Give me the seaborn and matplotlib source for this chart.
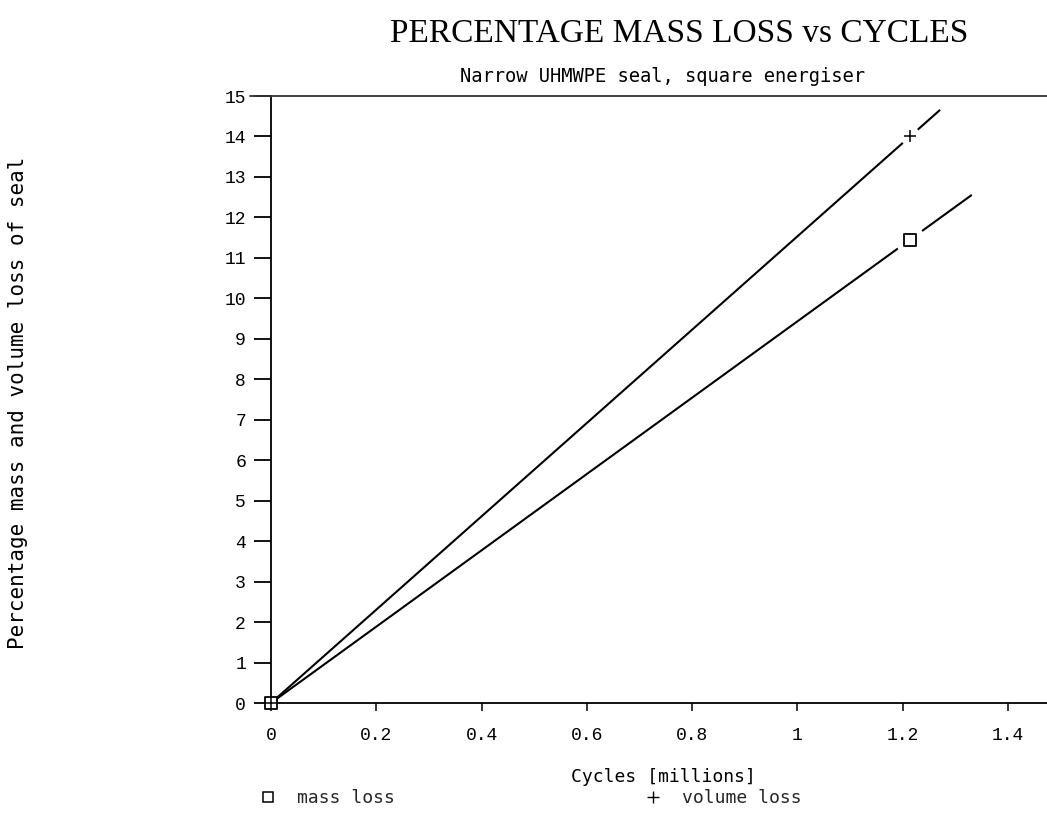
import numpy as np
import pandas as pd
import matplotlib
matplotlib.use("Agg")
import matplotlib.pyplot as plt
import seaborn as sns
from matplotlib.lines import Line2D

# Measured wear of the seal
cycles_millions = [0.0, 1.214]
mass_loss_pct = [0.0, 11.45]
volume_loss_pct = [0.0, 14.0]

# Extent of the fitted trend lines (millions of cycles)
mass_fit_end = 1.33
volume_fit_end = 1.27

x_ticks = [0, 0.2, 0.4, 0.6, 0.8, 1, 1.2, 1.4]
x_tick_labels = ["0", "0.2", "0.4", "0.6", "0.8", "1", "1.2", "1.4"]
y_ticks = list(range(0, 16))

sns.set_theme(style="white")
plt.rcParams["font.family"] = ["DejaVu Sans Mono"]

df = pd.DataFrame({
    "cycles": cycles_millions * 2,
    "loss": mass_loss_pct + volume_loss_pct,
    "series": ["mass loss"] * len(cycles_millions) + ["volume loss"] * len(cycles_millions),
})


def fit_through_origin(x, y, x_end):
    x = np.asarray(x)
    y = np.asarray(y)
    slope = (x * y).sum() / (x * x).sum()
    xs = np.array([0.0, x_end])
    return pd.DataFrame({"cycles": xs, "loss": slope * xs})


fig = plt.figure(figsize=(10.47, 8.13), dpi=100)
ax = fig.add_axes([271 / 1047, 1 - 703 / 813, 1 - 271 / 1047, (703 - 96) / 813])

mass_fit = fit_through_origin(cycles_millions, mass_loss_pct, mass_fit_end)
vol_fit = fit_through_origin(cycles_millions, volume_loss_pct, volume_fit_end)
sns.lineplot(data=mass_fit, x="cycles", y="loss", color="black", lw=1.5, ax=ax, zorder=2)
sns.lineplot(data=vol_fit, x="cycles", y="loss", color="black", lw=1.5, ax=ax, zorder=2)

# white halo around the measured points so the trend line breaks there
later = df[df["cycles"] > 0]
for name, size in [("mass loss", 30), ("volume loss", 20)]:
    sub = later[later["series"] == name]
    ax.plot(sub["cycles"], sub["loss"], "o", ms=size * 0.72, mfc="white", mec="none", zorder=3)

sns.scatterplot(data=df[df["series"] == "mass loss"], x="cycles", y="loss", marker="s",
                s=75, facecolor="white", edgecolor="black", linewidth=1.3, ax=ax, zorder=4)
sns.scatterplot(data=df[df["series"] == "volume loss"], x="cycles", y="loss", marker="+",
                s=70, color="black", linewidth=1.1, ax=ax, zorder=5)
for coll in ax.collections:
    coll.set_clip_on(False)

ax.set_xlim(0, (1047 - 271) / ((1008 - 271) / 1.4))
ax.set_ylim(0, 15)
ax.set_xticks(x_ticks)
ax.set_xticklabels(x_tick_labels)
ax.set_yticks(y_ticks)
ax.set_yticklabels([str(v) for v in y_ticks])

for lab in ax.get_xticklabels() + ax.get_yticklabels():
    lab.set_fontfamily("Liberation Mono")
    lab.set_fontsize(13)
    lab.set_color("black")

ax.tick_params(axis="y", direction="out", length=12, width=1.3, pad=6, left=True, colors="black")
ax.tick_params(axis="x", direction="out", length=6, width=1.1, pad=11, bottom=True, colors="black")

for side in ["left", "bottom"]:
    ax.spines[side].set_visible(True)
    ax.spines[side].set_color("black")
    ax.spines[side].set_linewidth(1.3)
ax.spines["top"].set_visible(False)
ax.spines["right"].set_visible(False)
# top frame line, running a little past the left axis
ax.plot([-0.027, 1.0], [1.0, 1.0], transform=ax.transAxes, color="#333333", lw=1.3,
        clip_on=False, zorder=6)

ax.set_xlabel("")
ax.set_ylabel("")

fig.text(679 / 1047, 1 - 34 / 813, "PERCENTAGE MASS LOSS vs CYCLES", ha="center", va="center",
         fontsize=24, family="Liberation Serif", color="black")
fig.text(662 / 1047, 1 - 76 / 813, "Narrow UHMWPE seal, square energiser", ha="center", va="center",
         fontsize=13.5, family="DejaVu Sans Mono", color="black")
fig.text(18 / 1047, 1 - 403 / 813, "Percentage mass and volume loss of seal", ha="center", va="center",
         rotation=90, fontsize=15, family="DejaVu Sans Mono", color="black")
fig.text(663 / 1047, 1 - 777 / 813, "Cycles [millions]", ha="center", va="center",
         fontsize=13, family="DejaVu Sans Mono", color="black")

handles = [
    Line2D([], [], marker="s", ls="none", mfc="white", mec="black", ms=7, mew=1.1),
    Line2D([], [], marker="+", ls="none", color="black", ms=8, mew=1.0),
]
fig.legend(handles, ["mass loss", "volume loss"], ncol=2, frameon=False,
           loc="center left", bbox_to_anchor=(259 / 1047, 1 - 798 / 813),
           prop={"family": "DejaVu Sans Mono", "size": 13}, handlelength=1.0,
           handletextpad=1.1, columnspacing=13.8, borderpad=0, borderaxespad=0)

fig.savefig("out.png", dpi=100)
